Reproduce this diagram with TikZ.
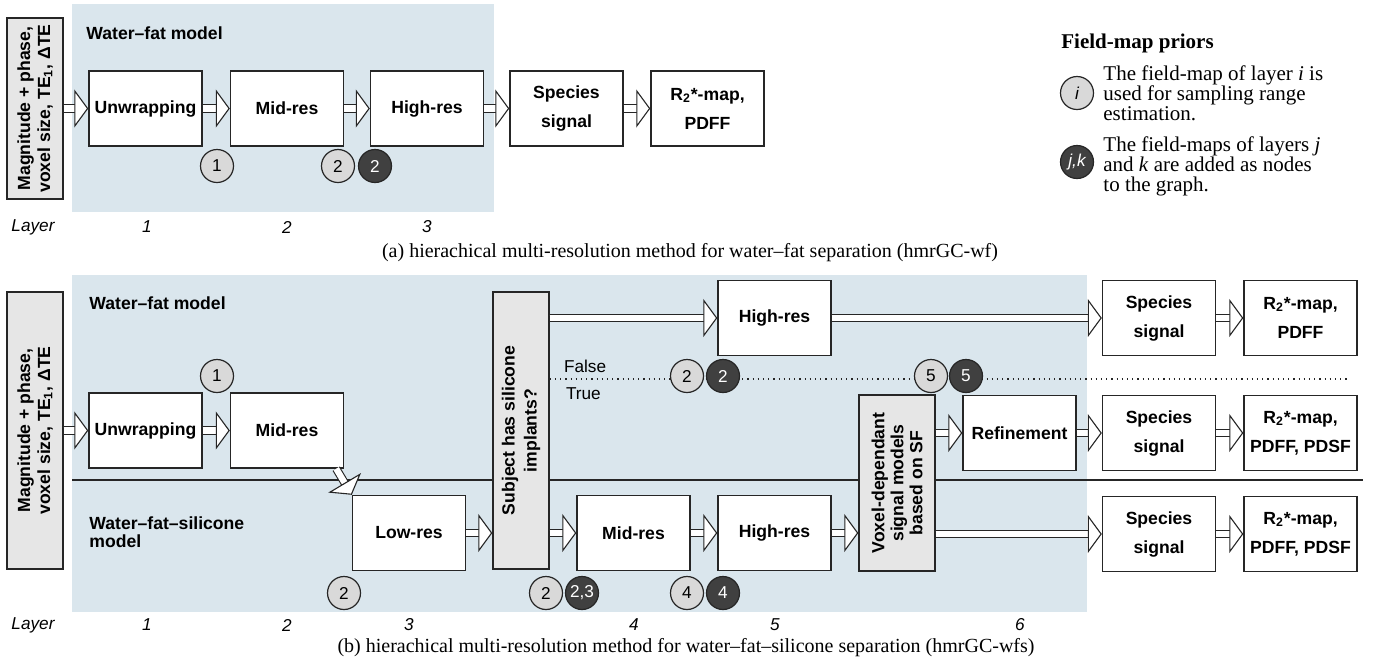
\documentclass[tikz,border=0pt]{standalone}
\usepackage{fontspec}
\setmainfont{Liberation Serif}
\setsansfont{Liberation Sans}
\usetikzlibrary{arrows.meta}

\definecolor{bgblue}{HTML}{DAE6ED}
\definecolor{boxgrey}{HTML}{E6E6E6}
\definecolor{priorlight}{HTML}{D9D9D9}
\definecolor{priordark}{HTML}{404040}
\definecolor{linegrey}{HTML}{262626}

\tikzset{
  stage/.style={draw=linegrey, line width=0.7pt, fill=white, minimum width=56.5pt,
    minimum height=37.5pt, inner sep=1pt, align=center,
    font=\fontsize{8.8}{14.5}\selectfont\sffamily\bfseries},
  cond/.style={draw=linegrey, line width=0.7pt, fill=boxgrey, rotate=90, inner sep=1pt,
    align=center, font=\fontsize{8.8}{10}\selectfont\sffamily\bfseries},
  prior/.style={circle, draw=linegrey, line width=0.6pt, fill=priorlight, minimum size=16.5pt,
    inner sep=0pt, font=\fontsize{8.6}{10}\selectfont\sffamily},
  priorD/.style={prior, fill=priordark, text=white},
  flow/.style={draw=linegrey, double=white, double distance=3.1pt, line width=0.55pt,
    -{Triangle[length=7pt, width=19pt, fill=white, line width=0.55pt]}},
  model/.style={anchor=west, align=left, inner sep=0pt,
    font=\fontsize{8.8}{9}\selectfont\sffamily\bfseries},
  layer/.style={font=\fontsize{8.6}{10}\selectfont\sffamily\itshape},
  caption/.style={font=\fontsize{10}{12}\selectfont\rmfamily},
  legend/.style={anchor=west, align=left, inner sep=0pt, font=\fontsize{10.5}{10}\selectfont\rmfamily},
}

\begin{document}
\begin{tikzpicture}[x=0.5pt, y=-0.5pt]
  \useasboundingbox (0,0) rectangle (1374,671);

  % (a) water-fat
  \fill[bgblue] (72,4) rectangle (494,212);
  \node[model] (wfA) at (86,33) {Water–fat model};
  \node[cond, minimum width=90.5pt, minimum height=28pt] (inA) at (35,108.5)
    {Magnitude + phase,\\voxel size, TE\textsubscript{1}, ΔTE};
  \node[stage] (unA) at (145.5,108.5) {Unwrapping};
  \node[stage] (midA) at (287,108.5) {Mid-res};
  \node[stage] (highA) at (427,108.5) {High-res};
  \node[stage] (specA) at (566.5,108.5) {Species\\signal};
  \node[stage] (mapA) at (707.5,108.5) {R\textsubscript{2}*-map,\\PDFF};
  \draw[flow] (inA.south) -- (unA.west);
  \draw[flow] (unA) -- (midA);
  \draw[flow] (midA) -- (highA);
  \draw[flow] (highA) -- (specA);
  \draw[flow] (specA) -- (mapA);
  \node[prior] (pA1) at (217,166) {1};
  \node[prior] (pA2) at (338,166) {2};
  \node[priorD] (qA2) at (375,166) {2};
  \foreach \x/\t [count=\k] in {33/Layer,147/1,287/2,427/3}
    \node[layer] (layA\k) at (\x,227) {\t};
  \node[caption] (capA) at (690,253)
    {(a) hierachical multi-resolution method for water–fat separation (hmrGC-wf)};

  % legend
  \node[legend, font=\fontsize{10.5}{10}\selectfont\rmfamily\bfseries] (legT) at (1061,43) {Field-map priors};
  \node[prior, font=\fontsize{8.6}{10}\selectfont\sffamily\itshape] (legI) at (1077,93) {i};
  \node[legend] (legIt) at (1103,93) {The field-map of layer \textit{i} is\\used for sampling range\\estimation.};
  \node[priorD, font=\fontsize{8.6}{10}\selectfont\sffamily\itshape] (legJ) at (1077,162) {j,k};
  \node[legend] (legJt) at (1103,166) {The field-maps of layers \textit{j}\\and \textit{k} are added as nodes\\to the graph.};

  % (b) water-fat-silicone
  \fill[bgblue] (72,275) rectangle (1087,612);
  \coordinate (sepL) at (72,480);
  \coordinate (sepR) at (1363,480);
  \draw[linegrey, line width=0.7pt] (sepL) -- (sepR);
  \node[model] (wfB) at (89,303) {Water–fat model};
  \node[model] (wfsB) at (89,532) {Water–fat–silicone\\model};
  \node[cond, minimum width=138.5pt, minimum height=28pt] (inB) at (35,430.5)
    {Magnitude + phase,\\voxel size, TE\textsubscript{1}, ΔTE};
  \node[stage] (unB) at (145.5,430.5) {Unwrapping};
  \node[stage] (midB) at (287,430.5) {Mid-res};
  \node[stage] (lowB) at (409,533) {Low-res};
  \node[cond, minimum width=138.5pt, minimum height=28pt, font=\fontsize{8.8}{11}\selectfont\sffamily\bfseries]
    (decB) at (521,430.5) {Subject has silicone\\implants?};
  \node[stage] (highT) at (774.5,318) {High-res};
  \node[stage] (specT) at (1159,318) {Species\\signal};
  \node[stage] (mapT) at (1300.5,318) {R\textsubscript{2}*-map,\\PDFF};
  \node[stage] (midC) at (633.5,533) {Mid-res};
  \node[stage] (highC) at (774.5,533) {High-res};
  \node[cond, minimum width=88pt, minimum height=38pt, font=\fontsize{8.8}{9.5}\selectfont\sffamily\bfseries]
    (voxB) at (897,483) {Voxel-dependant\\signal models\\based on SF};
  \node[stage] (refB) at (1019.5,433) {Refinement};
  \node[stage] (specM) at (1159,433) {Species\\signal};
  \node[stage] (mapM) at (1300.5,433) {R\textsubscript{2}*-map,\\PDFF, PDSF};
  \node[stage] (specC) at (1159,534) {Species\\signal};
  \node[stage] (mapC) at (1300.5,534) {R\textsubscript{2}*-map,\\PDFF, PDSF};

  % false / true branch
  \coordinate (dotEnd) at (1350,379);
  \draw[linegrey, line width=0.6pt, dash pattern=on 0.6pt off 2pt] (decB.south |- dotEnd) -- (dotEnd);
  \node[anchor=west, font=\fontsize{8.6}{10}\selectfont\sffamily] (fB) at (557,366) {False};
  \node[anchor=west, font=\fontsize{8.6}{10}\selectfont\sffamily] (tB) at (559,394) {True};

  \draw[flow] (inB.south) -- (unB.west);
  \draw[flow] (unB) -- (midB);
  \draw[flow] ([xshift=-4pt]midB.south east) -- (lowB.north west);
  \draw[flow] (lowB.east) -- (lowB.east -| decB.north);
  \draw[flow] (highT.west -| decB.south) -- (highT.west);
  \draw[flow] (highT) -- (specT);
  \draw[flow] (specT) -- (mapT);
  \draw[flow] (midC.west -| decB.south) -- (midC.west);
  \draw[flow] (midC) -- (highC);
  \draw[flow] (highC.east) -- (highC.east -| voxB.north);
  \draw[flow] (refB.west -| voxB.south) -- (refB.west);
  \draw[flow] (refB) -- (specM);
  \draw[flow] (specM) -- (mapM);
  \draw[flow] (specC.west -| voxB.south) -- (specC.west);
  \draw[flow] (specC) -- (mapC);

  \node[prior] (pB1) at (217,376) {1};
  \node[prior] (pB2) at (344,593) {2};
  \node[prior] (pB3) at (546,593) {2};
  \node[priorD] (qB3) at (582,593) {2,3};
  \node[prior] (pB4) at (687,376) {2};
  \node[priorD] (qB4) at (723,376) {2};
  \node[prior] (pB5) at (687,593) {4};
  \node[priorD] (qB5) at (723,593) {4};
  \node[prior] (pB6) at (931,376) {5};
  \node[priorD] (qB6) at (966,376) {5};

  \foreach \x/\t [count=\k] in {33/Layer,147/1,287/2,409/3,634/4,775/5,1020/6}
    \node[layer] (layB\k) at (\x,625) {\t};
  \node[caption] (capB) at (686,648)
    {(b) hierachical multi-resolution method for water–fat–silicone separation (hmrGC-wfs)};
\end{tikzpicture}
\end{document}
